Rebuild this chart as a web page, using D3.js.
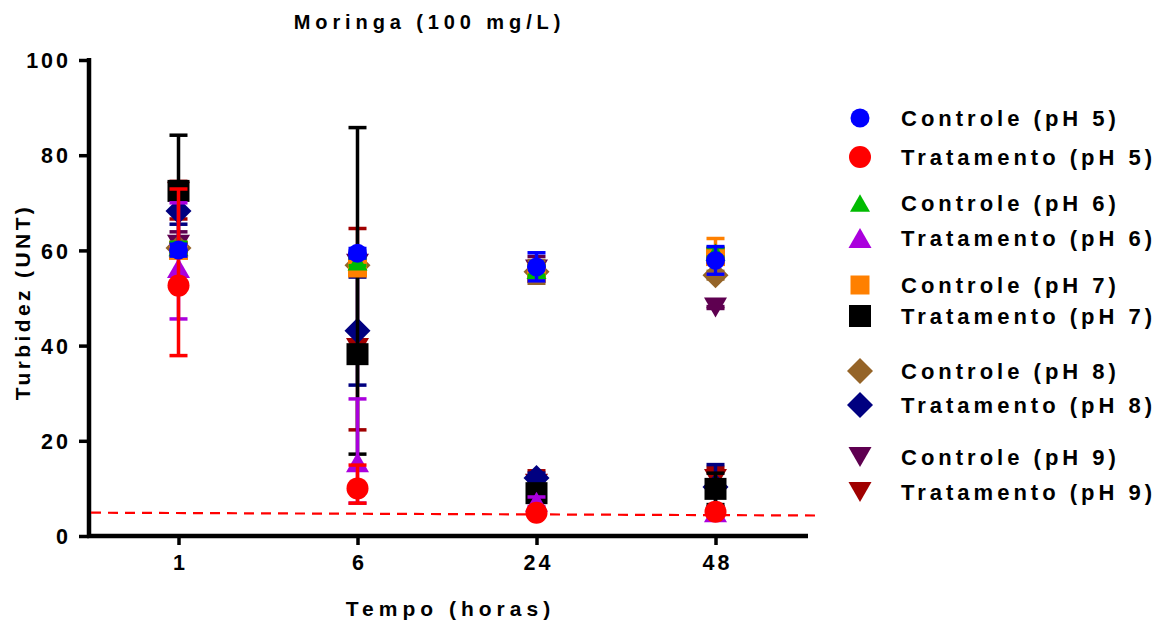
<!DOCTYPE html>
<html>
<head>
<meta charset="utf-8">
<script src="https://cdn.jsdelivr.net/npm/d3@7"></script>
<style>
body { margin:0; background:#fff; }
text { font-family: "Liberation Sans", Arial, sans-serif; font-weight: bold; fill:#000; }
</style>
</head>
<body>
<div id="chart"></div>
<script>
// valores (media, minimo, maximo) para 1, 6, 24, 48 h
var tempos = ["1", "6", "24", "48"];
var yTicks = [0, 20, 40, 60, 80, 100];
var limite = [4.9, 4.3]; // linha tracejada vermelha

var controlePH5    = [60.1, 59.4, 56.5, 57.9];
var controlePH5Min = [58.8, 58.4, 53.6, 55.0];
var controlePH5Max = [61.3, 60.4, 59.5, 60.8];

var tratPH5    = [52.6, 10.0, 4.9, 5.1];
var tratPH5Min = [37.9, 6.9, 4.5, 4.6];
var tratPH5Max = [72.9, 14.9, 5.3, 5.6];

var controlePH6    = [60.6, 57.6, 55.8, 59.6];
var controlePH6Min = [59.5, 56.8, 54.8, 58.6];
var controlePH6Max = [61.7, 58.4, 56.8, 60.6];

var tratPH6    = [56.3, 15.5, 7.2, 5.0];
var tratPH6Min = [45.6, 6.9, 6.2, 4.5];
var tratPH6Max = [70.0, 28.8, 8.2, 5.5];

var controlePH7    = [60.0, 56.3, 55.3, 58.7];
var controlePH7Min = [58.6, 55.2, 54.0, 55.0];
var controlePH7Max = [61.4, 57.4, 56.6, 62.5];

var tratPH7    = [72.5, 38.2, 9.0, 9.9];
var tratPH7Min = [60.8, 17.2, 8.0, 6.6];
var tratPH7Max = [84.2, 85.8, 10.0, 13.2];

var controlePH8    = [60.5, 56.9, 55.5, 54.8];
var controlePH8Min = [59.3, 56.0, 53.1, 54.0];
var controlePH8Max = [61.7, 57.8, 57.8, 55.6];

var tratPH8    = [68.3, 43.1, 12.2, 10.3];
var tratPH8Min = [65.5, 31.7, 11.2, 6.1];
var tratPH8Max = [71.0, 54.4, 13.2, 15.0];

var controlePH9    = [61.2, 57.2, 56.0, 48.0];
var controlePH9Min = [58.5, 56.2, 53.5, 47.8];
var controlePH9Max = [63.9, 58.2, 58.7, 48.2];

var tratPH9    = [72.3, 39.5, 11.0, 12.0];
var tratPH9Min = [66.6, 22.3, 8.3, 9.6];
var tratPH9Max = [74.5, 64.6, 13.7, 14.4];

var series = [
  {nome:"Controle (pH 5)",   m:controlePH5, lo:controlePH5Min, hi:controlePH5Max, cor:"#0000ff", forma:"circulo", tam:19},
  {nome:"Tratamento (pH 5)", m:tratPH5,     lo:tratPH5Min,     hi:tratPH5Max,     cor:"#ff0000", forma:"circulo", tam:22},
  {nome:"Controle (pH 6)",   m:controlePH6, lo:controlePH6Min, hi:controlePH6Max, cor:"#00bb00", forma:"triangulo", tam:20},
  {nome:"Tratamento (pH 6)", m:tratPH6,     lo:tratPH6Min,     hi:tratPH6Max,     cor:"#aa00dd", forma:"triangulo", tam:23},
  {nome:"Controle (pH 7)",   m:controlePH7, lo:controlePH7Min, hi:controlePH7Max, cor:"#ff8000", forma:"quadrado", tam:19},
  {nome:"Tratamento (pH 7)", m:tratPH7,     lo:tratPH7Min,     hi:tratPH7Max,     cor:"#000000", forma:"quadrado", tam:22},
  {nome:"Controle (pH 8)",   m:controlePH8, lo:controlePH8Min, hi:controlePH8Max, cor:"#956428", forma:"losango", tam:26},
  {nome:"Tratamento (pH 8)", m:tratPH8,     lo:tratPH8Min,     hi:tratPH8Max,     cor:"#000080", forma:"losango", tam:26},
  {nome:"Controle (pH 9)",   m:controlePH9, lo:controlePH9Min, hi:controlePH9Max, cor:"#5e0050", forma:"invertido", tam:23},
  {nome:"Tratamento (pH 9)", m:tratPH9,     lo:tratPH9Min,     hi:tratPH9Max,     cor:"#a00000", forma:"invertido", tam:23}
];

var width = 1167, height = 623;
var svg = d3.select("#chart").append("svg")
    .attr("width", width)
    .attr("height", height);

var x = d3.scalePoint()
    .domain(tempos)
    .range([89, 805])
    .padding(0.5);

var y = d3.scaleLinear()
    .domain([0, 100])
    .range([536, 60]);

// forma dos marcadores (s = largura em px)
function simbolo(forma, s) {
    var h = s / 2;
    if (forma == "circulo") return d3.symbol(d3.symbolCircle, Math.PI * h * h)();
    if (forma == "quadrado") return "M" + (-h) + "," + (-h) + "H" + h + "V" + h + "H" + (-h) + "Z";
    if (forma == "losango") return "M0," + (-h) + "L" + h + ",0L0," + h + "L" + (-h) + ",0Z";
    var t = s * 0.87 / 2;
    if (forma == "triangulo") return "M0," + (-t) + "L" + h + "," + t + "L" + (-h) + "," + t + "Z";
    return "M0," + t + "L" + h + "," + (-t) + "L" + (-h) + "," + (-t) + "Z";
}

// eixo y
var yAxis = svg.append("g")
    .attr("transform", "translate(89,0)")
    .call(d3.axisLeft(y).tickValues(yTicks).tickSize(10).tickSizeOuter(0).tickPadding(0));
yAxis.select(".domain").remove();
yAxis.selectAll(".tick line").attr("stroke", "#000").attr("stroke-width", 3.5);
yAxis.selectAll(".tick text")
    .attr("x", -21 + 3)
    .attr("dy", "0.36em")
    .style("font-size", "21.5px")
    .style("letter-spacing", "3px");

// eixo x
var xAxis = svg.append("g")
    .attr("transform", "translate(0,536)")
    .call(d3.axisBottom(x).tickSize(9).tickSizeOuter(0).tickPadding(0));
xAxis.select(".domain").remove();
xAxis.selectAll(".tick line").attr("stroke", "#000").attr("stroke-width", 3.5);
xAxis.selectAll(".tick text")
    .attr("y", 34)
    .attr("x", 1.5)
    .attr("dy", 0)
    .style("font-size", "21.5px")
    .style("letter-spacing", "3px");

svg.append("line")
    .attr("x1", 89).attr("x2", 89)
    .attr("y1", y(100) - 2).attr("y2", y(0) + 2)
    .attr("stroke", "#000").attr("stroke-width", 4.5);
svg.append("line")
    .attr("x1", 87).attr("x2", 808)
    .attr("y1", y(0)).attr("y2", y(0))
    .attr("stroke", "#000").attr("stroke-width", 4.5);

// linha de referencia tracejada
svg.append("line")
    .attr("x1", 91).attr("x2", 820)
    .attr("y1", y(limite[0])).attr("y2", y(limite[1]))
    .attr("stroke", "#ff0000")
    .attr("stroke-width", 2.2)
    .attr("stroke-dasharray", "10,7");

// pontos e barras de erro (desenhados do ultimo para o primeiro)
var plot = svg.append("g");
series.slice().reverse().forEach(function(s) {
    var g = plot.append("g");
    tempos.forEach(function(t, i) {
        var cx = x(t);
        g.append("line")
            .attr("x1", cx).attr("x2", cx)
            .attr("y1", y(s.lo[i])).attr("y2", y(s.hi[i]))
            .attr("stroke", s.cor).attr("stroke-width", 3.5);
        [s.lo[i], s.hi[i]].forEach(function(v) {
            g.append("line")
                .attr("x1", cx - 9).attr("x2", cx + 9)
                .attr("y1", y(v)).attr("y2", y(v))
                .attr("stroke", s.cor).attr("stroke-width", 3.5);
        });
    });
    g.selectAll("path")
        .data(s.m)
        .enter().append("path")
        .attr("transform", function(d, i) { return "translate(" + x(tempos[i]) + "," + y(d) + ")"; })
        .attr("d", simbolo(s.forma, s.tam))
        .attr("fill", s.cor);
});

// legenda
var legendaY = [118, 157, 203, 238, 285, 316, 371, 405, 457, 492];
var leg = svg.append("g");
series.forEach(function(s, i) {
    leg.append("path")
        .attr("transform", "translate(860," + legendaY[i] + ")")
        .attr("d", simbolo(s.forma, s.tam))
        .attr("fill", s.cor);
    leg.append("text")
        .attr("x", 901)
        .attr("y", legendaY[i] + 8)
        .style("font-size", "22px")
        .style("letter-spacing", "4px")
        .text(s.nome);
});

// titulos
svg.append("text")
    .attr("x", 427 + 2.5).attr("y", 29)
    .attr("text-anchor", "middle")
    .style("font-size", "20px")
    .style("letter-spacing", "4.9px")
    .text("Moringa (100 mg/L)");

svg.append("text")
    .attr("x", 448 + 2.5).attr("y", 616)
    .attr("text-anchor", "middle")
    .style("font-size", "21px")
    .style("letter-spacing", "5px")
    .text("Tempo (horas)");

svg.append("text")
    .attr("transform", "translate(30,302) rotate(-90)")
    .attr("text-anchor", "middle")
    .style("font-size", "21px")
    .style("letter-spacing", "3.4px")
    .text("Turbidez (UNT)");
</script>
</body>
</html>
